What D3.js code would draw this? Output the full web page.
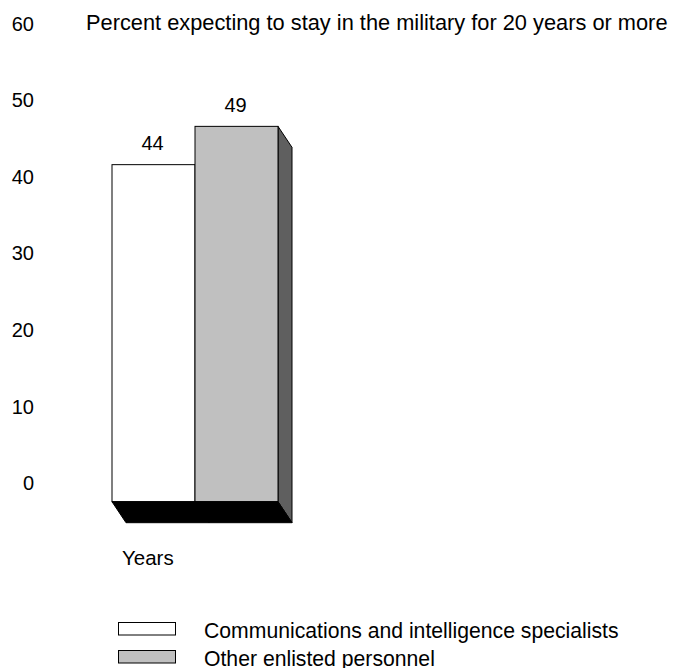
<!DOCTYPE html>
<html>
<head>
<meta charset="utf-8">
<script src="https://cdn.jsdelivr.net/npm/d3@7"></script>
<style>
  html, body { margin: 0; padding: 0; background: #fff; }
  svg { display: block; font-family: "Liberation Sans", Arial, Helvetica, sans-serif; }
</style>
</head>
<body>
<svg id="chart" width="679" height="668"></svg>
<script>
const title = "Percent expecting to stay in the military for 20 years or more";
const categories = ["Years"];
const seriesNames = ["Communications and intelligence specialists", "Other enlisted personnel"];
const seriesValues = [44, 49];
const tickValues = [0, 10, 20, 30, 40, 50, 60];

const fills = ["#ffffff", "#c0c0c0"];
const sideFill = "#5f5f5f";
const depth = { dx: 14, dy: 21 };

const svg = d3.select("#chart");

const y = d3.scaleLinear().domain([0, 60]).range([501.7, 501.7 - 60 * 7.66]);
const x = d3.scaleBand().domain(seriesNames).range([112, 278]).padding(0);

// Y tick labels
svg.append("g").selectAll("text").data(tickValues).join("text")
  .attr("x", 34).attr("y", d => y(d) - 11.5)
  .attr("text-anchor", "end").attr("font-size", 20).attr("fill", "#000")
  .text(d => d);

// Title
svg.append("text").attr("x", 86).attr("y", 30)
  .attr("font-size", 21.8).attr("fill", "#000").text(title);

const bars = seriesNames.map((s, i) => ({ name: s, value: seriesValues[i], fill: fills[i] }));
const g = svg.append("g");

bars.forEach(b => {
  const x0 = x(b.name), x1 = x(b.name) + x.bandwidth();
  const yt = y(b.value), yb = y(0);
  // side face
  g.append("path")
    .attr("d", `M${x1},${yt}L${x1 + depth.dx},${yt + depth.dy}L${x1 + depth.dx},${yb + depth.dy}L${x1},${yb}Z`)
    .attr("fill", sideFill).attr("stroke", "#000").attr("stroke-width", 1);
  // front face
  g.append("rect")
    .attr("x", x0).attr("y", yt).attr("width", x1 - x0).attr("height", yb - yt)
    .attr("fill", b.fill).attr("stroke", "#000").attr("stroke-width", 1);
});

// floor
const fx0 = x.range()[0], fx1 = x.range()[1], fy = y(0);
g.append("path")
  .attr("d", `M${fx0},${fy}L${fx1},${fy}L${fx1 + depth.dx},${fy + depth.dy}L${fx0 + depth.dx},${fy + depth.dy}Z`)
  .attr("fill", "#000").attr("stroke", "#000").attr("stroke-width", 1);

// value labels
g.selectAll("text.val").data(bars).join("text").attr("class", "val")
  .attr("x", d => x(d.name) + x.bandwidth() / 2 - 1)
  .attr("y", d => y(d.value) - 14.5)
  .attr("text-anchor", "middle").attr("font-size", 20).attr("fill", "#000")
  .text(d => d.value);

// category label
svg.append("text").attr("x", 122).attr("y", 565)
  .attr("font-size", 20.5).attr("fill", "#000").text(categories[0]);

// legend
const leg = svg.append("g");
bars.forEach((b, i) => {
  const yy = 622 + i * 28;
  leg.append("rect").attr("x", 118.5).attr("y", yy + 0.5).attr("width", 57).attr("height", 12.5)
    .attr("fill", b.fill).attr("stroke", "#000").attr("stroke-width", 1);
  leg.append("text").attr("x", 204).attr("y", yy + 15.5)
    .attr("font-size", 21.2).attr("fill", "#000").text(b.name);
});
</script>
</body>
</html>
